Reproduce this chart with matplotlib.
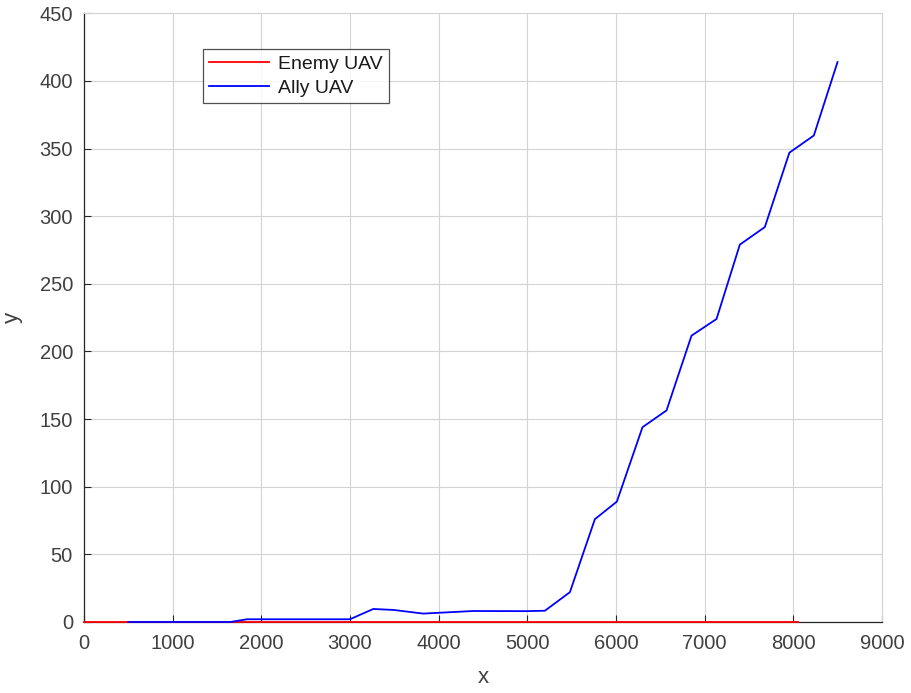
import matplotlib
import matplotlib.pyplot as plt
matplotlib.use('Agg')

plt.rcParams['font.family'] = ['Liberation Sans', 'DejaVu Sans']

# data
enemy_x = [0, 8050]
enemy_y = [0, 0]

ally_x = [500, 1650, 1840, 3000, 3263, 3490, 3827, 4390, 4990, 5199, 5481,
          5763, 6011, 6300, 6571, 6853, 7135, 7398, 7680, 7957, 8233, 8500]
ally_y = [0, 0, 2, 2, 9.6, 8.9, 6.2, 8.1, 8.0, 8.3, 22,
          76, 89, 144, 156.4, 211.7, 224, 279, 292, 347, 359.7, 414]

x_ticks = list(range(0, 9001, 1000))
y_ticks = list(range(0, 451, 50))

axis_col = '#262626'
text_col = '#404040'

fig = plt.figure(figsize=(9.11, 6.93), dpi=100)
ax = fig.add_axes([0.0922, 0.1025, 0.8758, 0.8782])

ax.plot(enemy_x, enemy_y, color=(1, 0, 0), lw=1.3, label='Enemy UAV',
        zorder=5, clip_on=False)
ax.plot(ally_x, ally_y, color=(0, 0, 1), lw=1.3, label='Ally UAV',
        zorder=5, clip_on=False)

ax.set_xlim(0, 9000)
ax.set_ylim(0, 450)
ax.set_xticks(x_ticks)
ax.set_yticks(y_ticks)
ax.grid(True, color='#d4d4d4', lw=0.8)
ax.set_axisbelow(True)

ax.tick_params(direction='in', length=5, width=0.8, color=axis_col,
               labelcolor=text_col, labelsize=14.5)
ax.tick_params(axis='x', pad=9)
ax.tick_params(axis='y', pad=8)
for side in ['bottom', 'left']:
    ax.spines[side].set_color(axis_col)
    ax.spines[side].set_linewidth(0.9)
for side in ['top', 'right']:
    ax.spines[side].set_color('#d4d4d4')
    ax.spines[side].set_linewidth(0.8)

ax.set_xlabel('x', fontsize=16, color=text_col, labelpad=10)
ax.set_ylabel('y', fontsize=16, color=text_col, labelpad=12)

leg = ax.legend(loc='upper left', bbox_to_anchor=(0.1495, 0.941),
                fontsize=14, frameon=True, fancybox=False,
                edgecolor=axis_col, handlelength=3.1, borderaxespad=0,
                borderpad=0.3, labelspacing=0.35, handletextpad=0.45)
leg.get_frame().set_linewidth(0.9)
for t in leg.get_texts():
    t.set_color('#1a1a1a')

fig.savefig('out.png', dpi=100)
